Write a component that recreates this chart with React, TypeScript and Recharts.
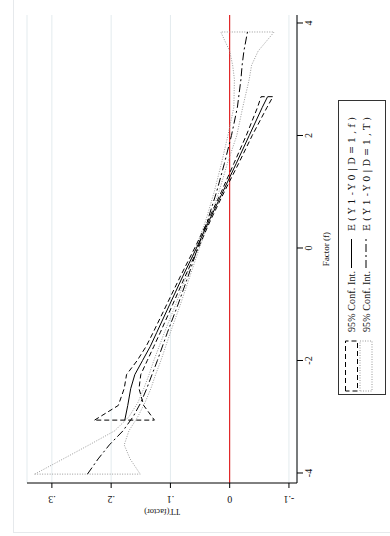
import React from "react";
import { LineChart, Line, XAxis, YAxis, CartesianGrid, ReferenceLine, Label } from "recharts";

// E(Y1-Y0|D=1,f) and its 95% band
const factorF = [-3.06, -2.8, -2.5, -2.25, -2.0, -1.75, -1.5, -1.0, -0.5, 0, 0.5, 1.0, 1.5, 2.0, 2.5, 2.69];
const ttF = [0.177, 0.172, 0.167, 0.16, 0.147, 0.134, 0.123, 0.101, 0.079, 0.056, 0.034, 0.0115, -0.011, -0.033, -0.055, -0.064];
const ttFUpper = [0.228, 0.188, 0.178, 0.174, 0.156, 0.141, 0.129, 0.106, 0.083, 0.059, 0.036, 0.014, -0.007, -0.028, -0.047, -0.053];
const ttFLower = [0.127, 0.145, 0.153, 0.15, 0.139, 0.128, 0.117, 0.096, 0.075, 0.053, 0.032, 0.009, -0.015, -0.038, -0.063, -0.073];

// E(Y1-Y0|D=1,T) and its 95% band
const factorT = [-4.02, -3.75, -3.5, -3.25, -3.0, -2.75, -2.5, -2.25, -2.0, -1.5, -1.0, -0.5, 0, 0.5, 1.0, 1.5, 2.0, 2.5, 3.0, 3.25, 3.5, 3.84];
const ttT = [0.24, 0.222, 0.203, 0.18, 0.163, 0.15, 0.14, 0.131, 0.122, 0.105, 0.087, 0.07, 0.054, 0.037, 0.022, 0.009, -0.003, -0.013, -0.019, -0.021, -0.024, -0.03];
const ttTUpper = [0.329, 0.281, 0.237, 0.194, 0.17, 0.155, 0.145, 0.136, 0.128, 0.11, 0.091, 0.073, 0.057, 0.04, 0.026, 0.014, 0.003, -0.007, -0.008, -0.005, 0.0, 0.015];
const ttTLower = [0.151, 0.168, 0.178, 0.17, 0.155, 0.143, 0.133, 0.125, 0.116, 0.1, 0.083, 0.067, 0.051, 0.034, 0.018, 0.004, -0.012, -0.022, -0.033, -0.037, -0.048, -0.075];

const xTicks = [-4, -2, 0, 2, 4];
const yTicks = [-0.1, 0, 0.1, 0.2, 0.3];

const legendRows = [
  { ci: "95% Conf. Int.", est: "E(Y1-Y0|D=1,f)" },
  { ci: "95% Conf. Int.", est: "E(Y1-Y0|D=1,T)" },
];

const FONT = '"Liberation Serif", "DejaVu Serif", serif';
const WIDE = '"DejaVu Serif", "Liberation Serif", serif';

const toPoints = (fs: number[], vs: number[]) => fs.map((f, i) => ({ f, v: vs[i] }));

// outline of an rarea: upper edge forward, lower edge back, closed
const outline = (fs: number[], up: number[], lo: number[]) => {
  const top = toPoints(fs, up);
  const bottom = toPoints(fs, lo).reverse();
  return [...top, ...bottom, top[0]];
};

const fmtY = (v: number) => (v === 0 ? "0" : v.toFixed(1).replace("0.", "."));

function YTick({ x, y, payload }: any) {
  const bx = x - 6;
  return (
    <text x={bx} y={y} transform={`rotate(-90 ${bx} ${y})`} textAnchor="middle" fontSize={10} fill="#111" fontFamily={FONT}>
      {fmtY(payload.value)}
    </text>
  );
}

function YTitle(props: any) {
  const vb = props.viewBox || { x: 0, y: 27, width: 53, height: 270 };
  const tx = vb.x + 27;
  const ty = vb.y + vb.height / 2;
  return (
    <text x={tx} y={ty} transform={`rotate(-90 ${tx} ${ty})`} textAnchor="middle" fontSize={8.5} fill="#111" fontFamily={FONT}>
      TT(factor)
    </text>
  );
}

function ChartLegend() {
  return (
    <svg
      width={295}
      height={48}
      style={{ position: "absolute", left: 141, top: 338, background: "#fff", border: "1px solid #333", boxSizing: "border-box" }}
    >
      {legendRows.map((r, i) => {
        const cy = 12.5 + i * 14.5;
        return (
          <g key={i}>
            <rect
              x={3}
              y={cy - 6}
              width={50}
              height={12}
              fill="none"
              stroke={i === 0 ? "#000" : "#999"}
              strokeDasharray={i === 0 ? "5 3" : "1 1.5"}
            />
            <text x={62} y={cy + 3.5} fontSize={10} fill="#111" fontFamily={FONT} textLength={61} lengthAdjust="spacing">
              {r.ci}
            </text>
            <line x1={126} x2={155} y1={cy} y2={cy} stroke="#000" strokeDasharray={i === 0 ? undefined : "8 3 2 3"} />
            <text x={163} y={cy + 3.5} fontSize={9.5} fill="#111" fontFamily={WIDE} textLength={114} lengthAdjust="spacing">
              {r.est}
            </text>
          </g>
        );
      })}
    </svg>
  );
}

export default function App() {
  const bandF = outline(factorF, ttFUpper, ttFLower);
  const bandT = outline(factorT, ttTUpper, ttTLower);
  const lineF = toPoints(factorF, ttF);
  const lineT = toPoints(factorT, ttT);

  return (
    <div style={{ position: "fixed", left: 0, top: 0, width: 390, height: 536, overflow: "hidden", background: "#fff" }}>
      <div
        style={{
          position: "absolute",
          left: 0,
          top: 0,
          width: 536,
          height: 390,
          transformOrigin: "0 0",
          transform: "translate(0px, 536px) rotate(-90deg)",
          fontFamily: FONT,
        }}
      >
        <div style={{ position: "absolute", left: 3, top: 13, width: 532, height: 400, border: "1px solid #e6e9ec" }} />
        <LineChart width={536} height={390} margin={{ top: 27, right: 15, left: 0, bottom: 53 }}>
          <CartesianGrid vertical={false} stroke="#e3ebee" />
          <XAxis
            type="number"
            dataKey="f"
            domain={[-4.178, 4.142]}
            ticks={xTicks}
            interval={0}
            height={40}
            tickSize={6}
            axisLine={{ stroke: "#000" }}
            tickLine={{ stroke: "#000" }}
            tick={{ fontSize: 10, fill: "#111", fontFamily: FONT }}
          >
            <Label value="Factor (f)" position="insideBottom" offset={8} style={{ fontSize: 9, fill: "#111", fontFamily: FONT }} />
          </XAxis>
          <YAxis
            type="number"
            dataKey="v"
            domain={[-0.1136, 0.342]}
            ticks={yTicks}
            interval={0}
            width={53}
            tickSize={5}
            axisLine={{ stroke: "#000" }}
            tickLine={{ stroke: "#000" }}
            tick={<YTick />}
            label={(p: any) => <YTitle {...p} />}
          />
          <ReferenceLine y={0} stroke="#e00000" strokeWidth={1} />
          <Line data={bandT} dataKey="v" type="linear" stroke="#999" strokeWidth={1} strokeDasharray="1 1.5" dot={false} activeDot={false} isAnimationActive={false} />
          <Line data={bandF} dataKey="v" type="linear" stroke="#000" strokeWidth={1} strokeDasharray="5 3" dot={false} activeDot={false} isAnimationActive={false} />
          <Line data={lineT} dataKey="v" type="linear" stroke="#000" strokeWidth={1} strokeDasharray="8 3 2 3" dot={false} activeDot={false} isAnimationActive={false} />
          <Line data={lineF} dataKey="v" type="linear" stroke="#000" strokeWidth={1} dot={false} activeDot={false} isAnimationActive={false} />
        </LineChart>
        <ChartLegend />
      </div>
    </div>
  );
}
